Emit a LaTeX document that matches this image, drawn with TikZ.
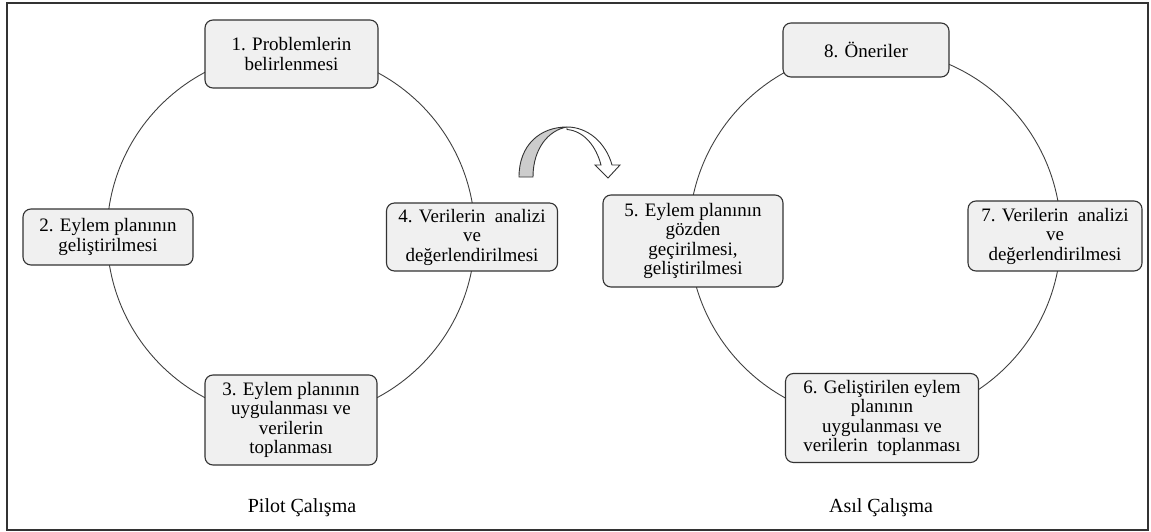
\documentclass[tikz,border=0pt]{standalone}
\usepackage{fontspec}
\setmainfont{Liberation Serif}
\newfontfamily\tnr{Liberation Serif}
\begin{document}
\begin{tikzpicture}[x=1pt,y=-1pt,
  box/.style={draw=black!80, line width=1.1pt, fill=black!6, rounded corners=8pt,
    align=center, inner sep=2pt, font=\tnr\fontsize{19}{19.5}\selectfont},
  ring/.style={draw=black!75, line width=0.9pt},
  caption/.style={font=\tnr\fontsize{20}{22}\selectfont}]
\useasboundingbox (0,0) rectangle (1151,532);
\draw[line width=1.6pt, black!80] (7,3) rectangle (1148,530);
% circles
\draw[ring] (291,235) circle[radius=184];
\draw[ring] (875,235) circle[radius=186];
% left cycle
\node[box, minimum width=173pt, minimum height=68pt] (n1) at (291.5,54) {1. Problemlerin\\belirlenmesi};
\node[box, minimum width=170pt, minimum height=56pt] (n2) at (108,237) {2. Eylem planının\\geliştirilmesi};
\node[box, minimum width=172pt, minimum height=90pt] (n3) at (291,420) {3. Eylem planının\\uygulanması ve\\verilerin\\toplanması};
\node[box, minimum width=171pt, minimum height=68pt] (n4) at (472,237) {4. Verilerin\ \ analizi\\ve\\değerlendirilmesi};
% right cycle
\node[box, minimum width=180pt, minimum height=92pt] (n5) at (693,241) {5. Eylem planının\\gözden\\geçirilmesi,\\geliştirilmesi};
\node[box, minimum width=193pt, minimum height=89pt] (n6) at (882,418) {6. Geliştirilen eylem\\planının\\uygulanması ve\\verilerin\ \ toplanması};
\node[box, minimum width=174pt, minimum height=70pt] (n7) at (1055,236) {7. Verilerin\ \ analizi\\ve\\değerlendirilmesi};
\node[box, minimum width=166pt, minimum height=54pt] (n8) at (866,50) {8. Öneriler};
% captions
\node[caption] (c1) at (302,508) {Pilot Çalışma};
\node[caption] (c2) at (881,508) {Asıl Çalışma};
% curved block arrow
\draw[black!80, line width=0.9pt, fill=black!20]
  (519,177) .. controls (519,145) and (540,127) .. (567,127)
  .. controls (549,130) and (533,148) .. (533,177) -- cycle;
\draw[black!80, line width=0.9pt, fill=white, line join=miter]
  (567,127) .. controls (588,127) and (606,143) .. (612,165)
  -- (620,165) -- (608,178) -- (595,165) -- (601,165)
  .. controls (596,146) and (584,131) .. (567,129.5) -- cycle;
\end{tikzpicture}
\end{document}
